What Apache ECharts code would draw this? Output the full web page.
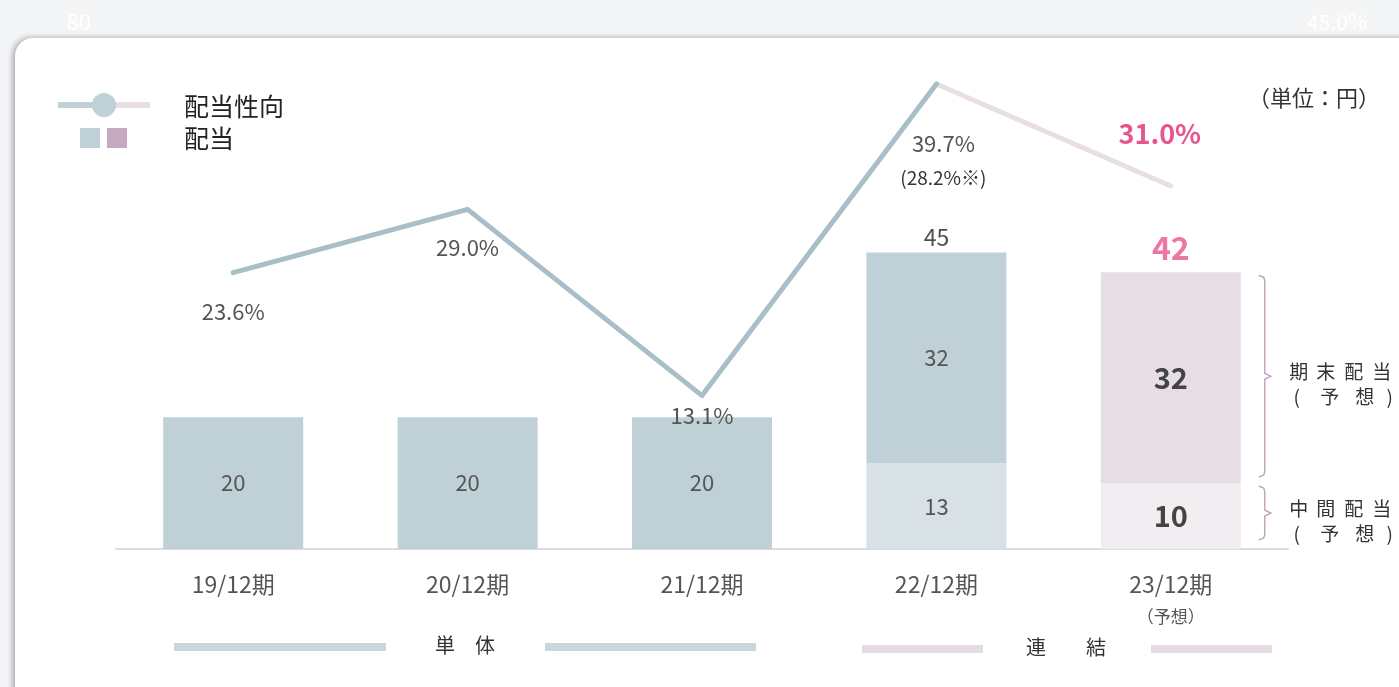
<!DOCTYPE html>
<html>
<head>
<meta charset="utf-8">
<script src="https://cdn.jsdelivr.net/npm/echarts@6/dist/echarts.min.js"></script>
<style>
html,body{margin:0;padding:0;background:#f4f5f7;}
#chart{width:1399px;height:687px;}
</style>
</head>
<body>
<div id="chart"></div>
<script>
// ---- data ----
const categories = ['19/12期', '20/12期', '21/12期', '22/12期', '23/12期'];
const forecastNote = ['', '', '', '', '（予想）'];
const annualDividend = [20, 20, 20, null, null];
const interimDividend = [null, null, null, 13, 10];
const yearEndDividend = [null, null, null, 32, 32];
const totalDividend = [null, null, null, 45, 42];
const payoutSingle = [23.6, 29.0, 13.1, 39.7, null];
const payoutConsolidated = [null, null, null, 39.7, 31.0];
const payoutNote = ['', '', '', '(28.2%※)', ''];
const leftAxisMax = 80;
const rightAxisMax = 45;
const bracketRows = [
  { lo: 10, hi: 42, lines: [['期', '末', '配', '当'], ['(', '予', '想', ')']] },
  { lo: 0, hi: 10, lines: [['中', '間', '配', '当'], ['(', '予', '想', ')']] }
];
const legendLabels = ['配当性向', '配当'];
const unitLabel = '（単位：円）';
const groupLabels = [['単', '体'], ['連', '結']];

const FONT = '"Noto Sans CJK JP", "Noto Sans", sans-serif';
const BLUE = '#bfd0d7', BLUE_LIGHT = '#d8e1e5', PINK = '#e6dde5', PINK_LIGHT = '#f2edf1';
const LINE_BLUE = '#a9bfc8', LINE_PINK = '#e8dee6', ACCENT = '#e8548f';

const chart = echarts.init(document.getElementById('chart'));

const interimData = interimDividend.map((v, i) => v == null ? null : {
  value: v,
  itemStyle: { color: i === 4 ? PINK_LIGHT : BLUE_LIGHT },
  label: i === 4 ? { fontSize: 29, fontWeight: 'bold', color: '#444' } : {}
});
const yearEndData = yearEndDividend.map((v, i) => v == null ? null : {
  value: v,
  itemStyle: { color: i === 4 ? PINK : BLUE },
  label: i === 4 ? { fontSize: 29, fontWeight: 'bold', color: '#444' } : {}
});
const totalData = totalDividend.map((v, i) => v == null ? null : {
  value: v,
  label: i === 4 ? { fontSize: 32, fontWeight: 'bold', color: ACCENT, distance: 8 }
                 : { fontSize: 23, color: '#222', distance: 3 }
});
const singleLabelCfg = [
  { position: 'bottom', distance: 28 },
  { position: 'bottom', distance: 27 },
  { position: 'bottom', distance: 9 },
  { position: 'bottom', distance: 44, offset: [7, 0] },
  {}
];
const singleData = payoutSingle.map((v, i) => v == null ? null : {
  value: v,
  label: Object.assign({ show: true }, singleLabelCfg[i],
    payoutNote[i] ? { formatter: '{a|' + v.toFixed(1) + '%}\n{b|' + payoutNote[i] + '}' } : {})
});
const consData = payoutConsolidated.map((v, i) => v == null ? null : {
  value: v,
  label: i === 4 ? { show: true, position: 'top', distance: 38, offset: [-11, 0],
    fontSize: 27, fontWeight: 'bold', color: ACCENT } : { show: false }
});

const option = {
  backgroundColor: '#f4f5f7',
  textStyle: { fontFamily: FONT },
  animation: false,
  grid: { left: 116, right: 111, top: 22, bottom: 138 },
  xAxis: {
    type: 'category',
    data: categories,
    axisTick: { show: false },
    axisLine: { lineStyle: { color: '#dcdcdc', width: 2 } },
    axisLabel: {
      margin: 22,
      formatter: function (v, idx) {
        return forecastNote[idx] ? '{a|' + v + '}\n{b|' + forecastNote[idx] + '}' : '{a|' + v + '}';
      },
      rich: {
        a: { fontSize: 23, color: '#555', lineHeight: 26, fontFamily: FONT },
        b: { fontSize: 17, color: '#555', lineHeight: 40, fontFamily: FONT }
      }
    }
  },
  yAxis: [
    {
      type: 'value', min: 0, max: leftAxisMax, interval: leftAxisMax,
      splitLine: { show: false }, axisLine: { show: false }, axisTick: { show: false },
      axisLabel: { color: '#ffffff', fontSize: 22, margin: 25, formatter: v => v ? String(v) : '' }
    },
    {
      type: 'value', min: 0, max: rightAxisMax, interval: rightAxisMax,
      splitLine: { show: false }, axisLine: { show: false }, axisTick: { show: false },
      axisLabel: { color: '#ffffff', fontSize: 21, margin: 19, formatter: v => v ? v.toFixed(1) + '%' : '' }
    }
  ],
  graphic: [
    { type: 'rect', z: -10, shape: { x: 15, y: 38, width: 1450, height: 720, r: 18 },
      style: { fill: '#ffffff', shadowBlur: 6, shadowColor: 'rgba(0,0,0,0.35)', shadowOffsetX: -2, shadowOffsetY: 0 } },
    // legend
    { type: 'line', shape: { x1: 58, y1: 105, x2: 104, y2: 105 }, style: { stroke: BLUE, lineWidth: 6 } },
    { type: 'line', shape: { x1: 104, y1: 105, x2: 150, y2: 105 }, style: { stroke: LINE_PINK, lineWidth: 6 } },
    { type: 'circle', shape: { cx: 104, cy: 105, r: 12 }, style: { fill: BLUE } },
    { type: 'rect', shape: { x: 80, y: 128, width: 20, height: 20 }, style: { fill: BLUE } },
    { type: 'rect', shape: { x: 107, y: 128, width: 20, height: 20 }, style: { fill: '#c5a9c0' } },
    { type: 'text', x: 184, y: 106, style: { text: legendLabels[0], font: '25px ' + FONT, fill: '#222', textVerticalAlign: 'middle' } },
    { type: 'text', x: 184, y: 138, style: { text: legendLabels[1], font: '25px ' + FONT, fill: '#222', textVerticalAlign: 'middle' } },
    { type: 'text', x: 1380, y: 98, style: { text: unitLabel, font: '22px ' + FONT, fill: '#333', textAlign: 'right', textVerticalAlign: 'middle' } },
    // group labels
    { type: 'rect', shape: { x: 174, y: 643, width: 212, height: 8 }, style: { fill: '#c9d6dc' } },
    { type: 'rect', shape: { x: 545, y: 643, width: 211, height: 8 }, style: { fill: '#c9d6dc' } },
    { type: 'text', x: 465, y: 645, style: { text: groupLabels[0].join('　'), font: '20px ' + FONT, fill: '#333', textAlign: 'center', textVerticalAlign: 'middle' } },
    { type: 'rect', shape: { x: 862, y: 645, width: 121, height: 8 }, style: { fill: '#e6dce4' } },
    { type: 'rect', shape: { x: 1151, y: 645, width: 121, height: 8 }, style: { fill: '#e6dce4' } },
    { type: 'text', x: 1066, y: 647, style: { text: groupLabels[1].join('　　'), font: '20px ' + FONT, fill: '#333', textAlign: 'center', textVerticalAlign: 'middle' } }
  ],
  series: [
    {
      type: 'bar', name: '配当', stack: 'd', barWidth: 140, z: 2,
      data: annualDividend, itemStyle: { color: BLUE },
      label: { show: true, position: 'inside', fontSize: 22, color: '#555' }
    },
    {
      type: 'bar', name: '中間配当', stack: 'd', barWidth: 140, z: 2,
      data: interimData,
      label: { show: true, position: 'inside', fontSize: 22, color: '#555' }
    },
    {
      type: 'bar', name: '期末配当', stack: 'd', barWidth: 140, z: 2,
      data: yearEndData,
      label: { show: true, position: 'inside', fontSize: 22, color: '#555' }
    },
    {
      type: 'scatter', name: '合計', symbolSize: 1, itemStyle: { color: 'rgba(0,0,0,0)' }, z: 5,
      data: totalData,
      label: { show: true, position: 'top' }
    },
    {
      type: 'line', name: '配当性向(単体)', yAxisIndex: 1, z: 4,
      data: singleData, symbol: 'circle', symbolSize: 1,
      itemStyle: { color: LINE_BLUE },
      lineStyle: { color: LINE_BLUE, width: 5, cap: 'round', join: 'round' },
      label: {
        show: true, fontSize: 22, color: '#555',
        formatter: p => p.value.toFixed(1) + '%',
        rich: {
          a: { fontSize: 22, color: '#555', lineHeight: 30 },
          b: { fontSize: 19, color: '#333', lineHeight: 38 }
        }
      }
    },
    {
      type: 'line', name: '配当性向(連結)', yAxisIndex: 1, z: 3,
      data: consData, symbol: 'circle', symbolSize: 1,
      itemStyle: { color: LINE_PINK },
      lineStyle: { color: LINE_PINK, width: 5, cap: 'round', join: 'round' },
      label: { formatter: p => p.value.toFixed(1) + '%' }
    },
    {
      type: 'custom', name: 'bracket', z: 6,
      data: bracketRows.map(r => [4, r.lo, r.hi]),
      renderItem: function (params, api) {
        const row = bracketRows[params.dataIndex];
        const cx = api.coord([api.value(0), 0])[0];
        const yLo = api.coord([api.value(0), api.value(1)])[1];
        const yHi = api.coord([api.value(0), api.value(2)])[1];
        const top = yHi + 3, bot = yLo - (row.lo === 0 ? 9 : 6);
        const mid = (top + bot) / 2;
        const bx = cx + 94;
        const children = [{
          type: 'polyline',
          shape: { points: [[bx - 6, top], [bx - 1, top + 2], [bx, top + 6], [bx, mid - 3], [bx + 6, mid], [bx, mid + 3], [bx, bot - 6], [bx - 1, bot - 2], [bx - 6, bot]] },
          style: { stroke: '#b99ab6', lineWidth: 1.3, fill: null }
        }];
        const xs = [[128, 155, 183, 211], [126, 159, 194, 219]];
        row.lines.forEach((chars, li) => {
          chars.forEach((ch, ci) => {
            children.push({
              type: 'text',
              style: {
                text: ch, x: cx + xs[li][ci], y: mid - 4 + li * 25,
                font: '19px ' + FONT, fill: '#333', textAlign: 'center', textVerticalAlign: 'middle'
              }
            });
          });
        });
        return { type: 'group', children: children };
      }
    }
  ]
};
chart.setOption(option);
</script>
</body>
</html>
